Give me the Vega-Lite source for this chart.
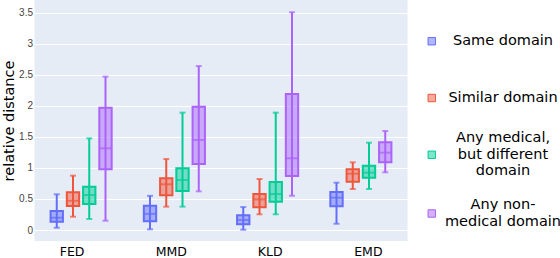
{
  "$schema": "https://vega.github.io/schema/vega-lite/v6.json",
  "autosize": {"type": "none"},
  "padding": {"left": 34.5, "top": 0, "right": 152.5, "bottom": 17},
  "width": 373,
  "height": 241,
  "background": "white",
  "config": {
    "view": {"fill": "#E5ECF6", "stroke": null},
    "font": "DejaVu Sans"
  },
  "data": {
    "values": [
      {"metric": "FED", "group": "Same domain", "min": 0.037, "q1": 0.134, "median": 0.198, "q3": 0.306, "max": 0.575},
      {"metric": "FED", "group": "Similar domain", "min": 0.214, "q1": 0.387, "median": 0.472, "q3": 0.607, "max": 0.875},
      {"metric": "FED", "group": "Any medical, but different domain", "min": 0.177, "q1": 0.419, "median": 0.564, "q3": 0.698, "max": 1.476},
      {"metric": "FED", "group": "Any non-medical domain", "min": 0.15, "q1": 0.978, "median": 1.316, "q3": 1.97, "max": 2.47},
      {"metric": "MMD", "group": "Same domain", "min": 0.011, "q1": 0.14, "median": 0.26, "q3": 0.39, "max": 0.55},
      {"metric": "MMD", "group": "Similar domain", "min": 0.376, "q1": 0.559, "median": 0.736, "q3": 0.833, "max": 1.143},
      {"metric": "MMD", "group": "Any medical, but different domain", "min": 0.376, "q1": 0.628, "median": 0.805, "q3": 0.994, "max": 1.89},
      {"metric": "MMD", "group": "Any non-medical domain", "min": 0.623, "q1": 1.063, "median": 1.45, "q3": 1.986, "max": 2.64},
      {"metric": "KLD", "group": "Same domain", "min": 0.005, "q1": 0.091, "median": 0.161, "q3": 0.236, "max": 0.37},
      {"metric": "KLD", "group": "Similar domain", "min": 0.253, "q1": 0.365, "median": 0.494, "q3": 0.58, "max": 0.821},
      {"metric": "KLD", "group": "Any medical, but different domain", "min": 0.253, "q1": 0.456, "median": 0.58, "q3": 0.773, "max": 1.89},
      {"metric": "KLD", "group": "Any non-medical domain", "min": 0.553, "q1": 0.87, "median": 1.155, "q3": 2.19, "max": 3.506},
      {"metric": "EMD", "group": "Same domain", "min": 0.101, "q1": 0.381, "median": 0.52, "q3": 0.612, "max": 0.762},
      {"metric": "EMD", "group": "Similar domain", "min": 0.66, "q1": 0.778, "median": 0.907, "q3": 0.978, "max": 1.09},
      {"metric": "EMD", "group": "Any medical, but different domain", "min": 0.66, "q1": 0.843, "median": 0.923, "q3": 1.036, "max": 1.406},
      {"metric": "EMD", "group": "Any non-medical domain", "min": 0.929, "q1": 1.09, "median": 1.245, "q3": 1.412, "max": 1.594}
    ]
  },
  "encoding": {
    "x": {
      "field": "metric", "type": "nominal", "sort": ["FED", "MMD", "KLD", "EMD"],
      "scale": {"paddingInner": 0.303, "paddingOuter": 0.1515},
      "axis": {
        "title": null, "domain": false, "ticks": false, "labelAngle": 0,
        "labelFont": "DejaVu Sans", "labelFontSize": 12.5, "labelColor": "#000000", "labelPadding": 4.5,
        "labelOffset": {"expr": "datum.value == 'FED' ? -9 : datum.value == 'MMD' ? -3 : datum.value == 'KLD' ? 2.5 : 7.5"}
      }
    },
    "xOffset": {
      "field": "group", "type": "nominal",
      "sort": ["Same domain", "Similar domain", "Any medical, but different domain", "Any non-medical domain"],
      "scale": {"paddingInner": 0.24, "paddingOuter": 0.12}
    },
    "y": {
      "type": "quantitative",
      "scale": {"domain": [-0.177, 3.704], "nice": false, "zero": false},
      "axis": {
        "title": "relative distance", "titleFont": "DejaVu Sans", "titleFontSize": 14.5, "titleFontWeight": "normal", "titleColor": "#000000", "titlePadding": 2,
        "values": [0, 0.5, 1, 1.5, 2, 2.5, 3, 3.5], "tickCount": 8,
        "labelExpr": "datum.value == 0 ? '0' : datum.value == 1 ? '1' : datum.value == 2 ? '2' : datum.value == 3 ? '3' : format(datum.value, '.1f')",
        "labelOverlap": false,
        "domain": false, "ticks": false, "labelPadding": 2,
        "labelFont": "Liberation Sans", "labelFontSize": 10, "labelColor": "#444444",
        "gridColor": "#ffffff", "gridWidth": 1
      }
    },
    "color": {
      "field": "group", "type": "nominal",
      "sort": ["Same domain", "Similar domain", "Any medical, but different domain", "Any non-medical domain"],
      "scale": {
        "domain": ["Same domain", "Similar domain", "Any medical, but different domain", "Any non-medical domain"],
        "range": ["#636efa", "#EF553B", "#00cc96", "#ab63fa"]
      },
      "legend": {
        "title": null, "orient": "none", "legendX": 390, "legendY": 34,
        "symbolType": "square", "symbolSize": 55,
        "labelFont": "DejaVu Sans", "labelFontSize": 14.5, "labelColor": "#000000",
        "labelAlign": "center", "labelBaseline": "middle", "labelOffset": 64, "labelLimit": 220,
        "rowPadding": 1.75,
        "labelExpr": "datum.label == 'Any medical, but different domain' ? ['Any medical,', 'but different', 'domain'] : datum.label == 'Any non-medical domain' ? ['', 'Any non-', 'medical domain'] : ['', datum.label, '']",
        "encode": {
          "symbols": {"update": {
            "fill": {"scale": "color", "field": "value"},
            "fillOpacity": {"value": 0.5},
            "stroke": {"scale": "color", "field": "value"},
            "strokeWidth": {"value": 1},
            "opacity": {"value": 1}
          }},
          "labels": {"update": {
            "lineHeight": {"signal": "datum.index == 0 ? 16.5 : datum.index == 1 ? 23.25 : 16.5"},
            "dy": {"signal": "datum.index == 0 ? -16.5 : datum.index == 1 ? -23.25 : datum.index == 2 ? -16.5 : -24.75"}
          }}
        }
      }
    }
  },
  "layer": [
    {
      "mark": {"type": "rule", "strokeWidth": 2},
      "encoding": {
        "y": {"field": "min"},
        "y2": {"field": "max"}
      }
    },
    {
      "mark": {"type": "bar", "fillOpacity": 0.5, "filled": true},
      "encoding": {
        "y": {"field": "q1"},
        "y2": {"field": "q3"}
      }
    },
    {
      "mark": {"type": "bar", "filled": false, "strokeWidth": 2},
      "encoding": {
        "y": {"field": "q1"},
        "y2": {"field": "q3"}
      }
    },
    {
      "mark": {"type": "tick", "thickness": 2, "size": 12},
      "encoding": {
        "y": {"field": "median"}
      }
    },
    {
      "mark": {"type": "tick", "thickness": 2, "size": 6},
      "encoding": {
        "y": {"field": "min"}
      }
    },
    {
      "mark": {"type": "tick", "thickness": 2, "size": 6},
      "encoding": {
        "y": {"field": "max"}
      }
    }
  ]
}
